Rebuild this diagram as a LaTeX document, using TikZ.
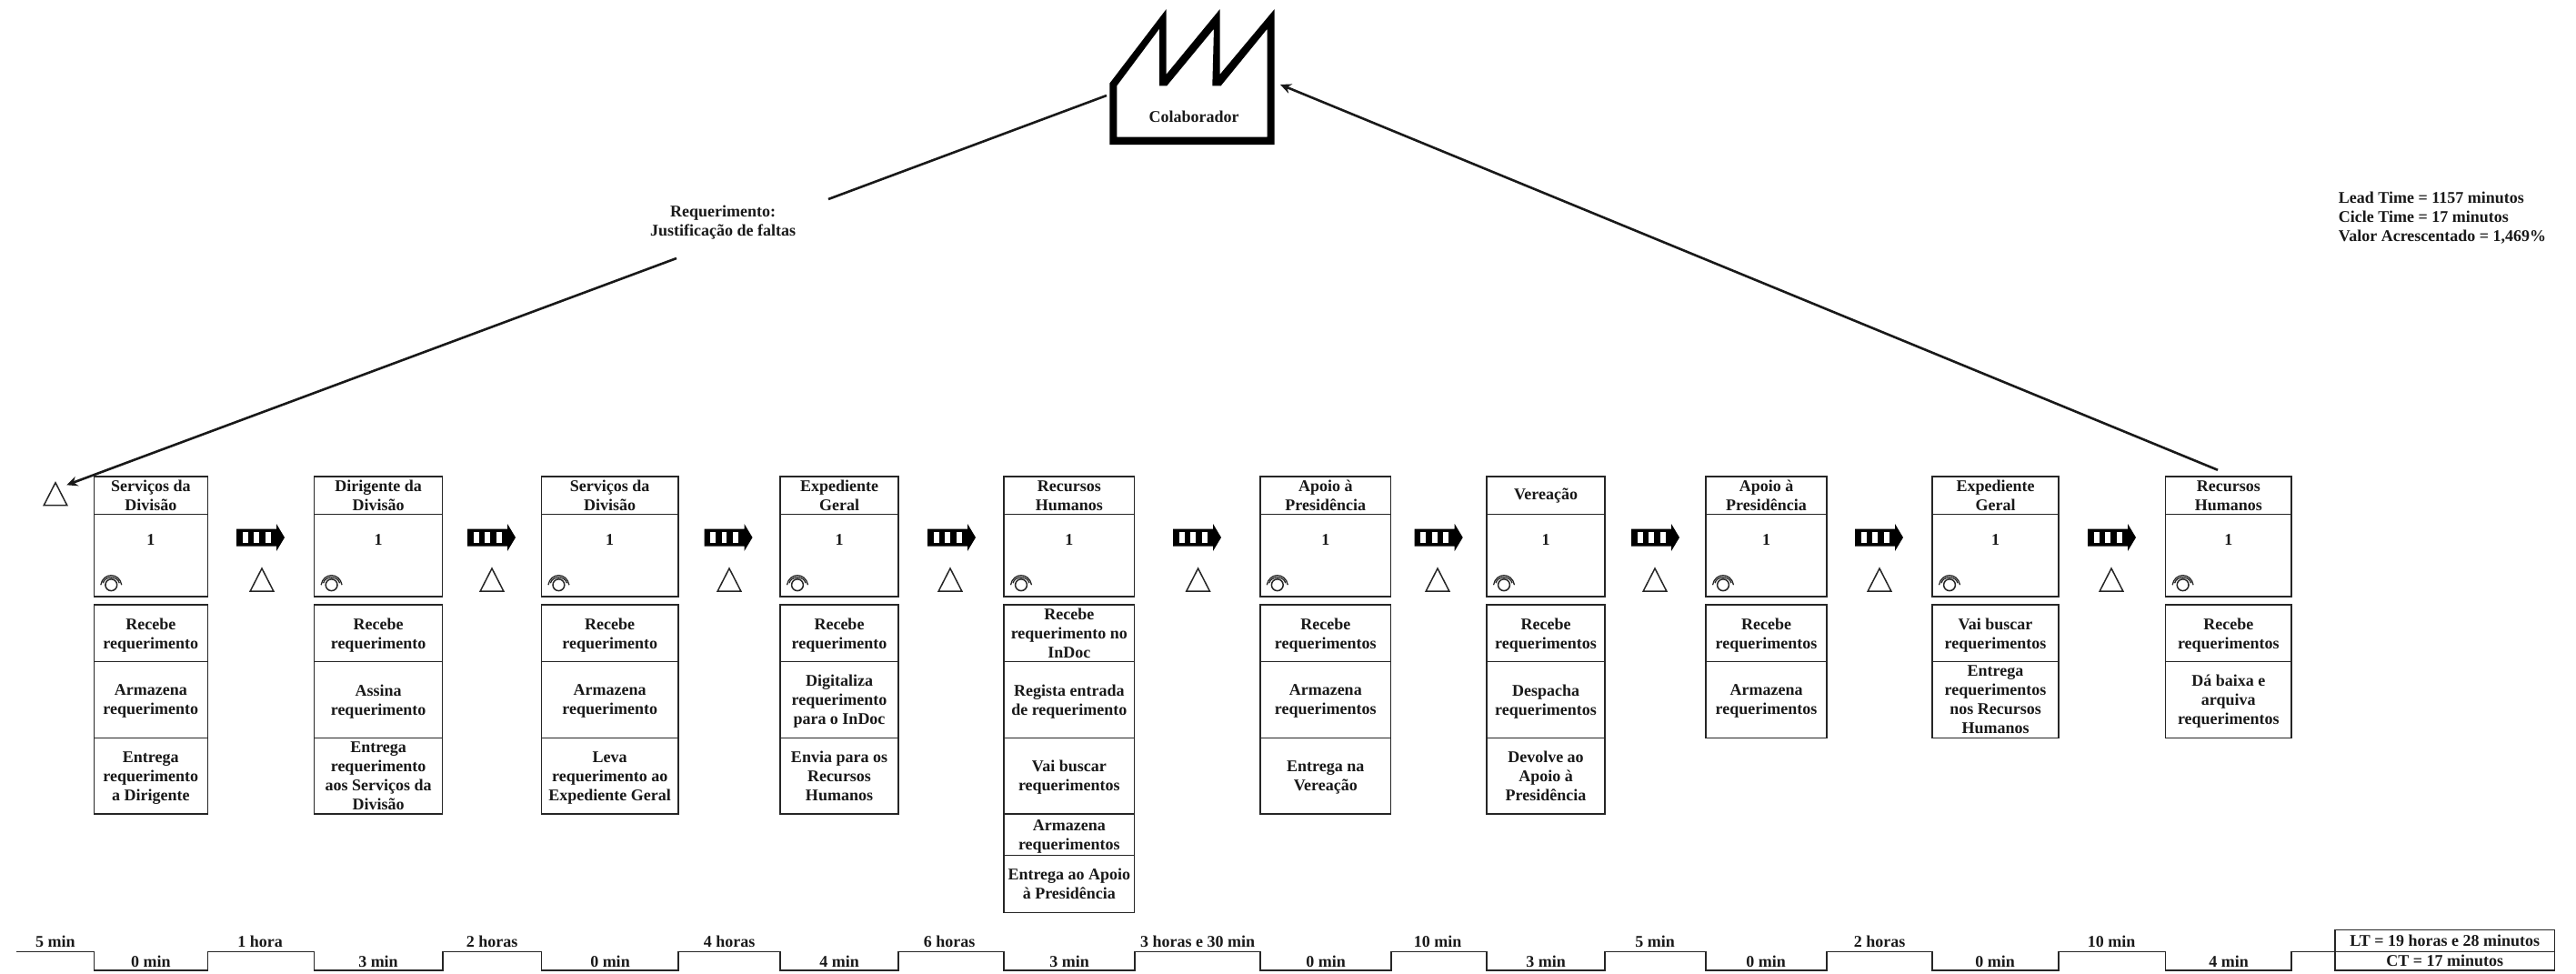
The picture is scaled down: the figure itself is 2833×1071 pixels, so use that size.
\documentclass[tikz,border=0pt]{standalone}
\usepackage{fontspec}
\setmainfont{Liberation Serif}
\usepackage{tikz}
\usetikzlibrary{positioning,arrows.meta,calc}
\usepackage{xcolor}

\tikzset{
    pushsym/.pic={
        \fill[black] (0,-9.5) -- (44,-9.5) -- (44,-15) -- (53,0) -- (44,15) -- (44,9.5) -- (0,9.5) -- cycle;
        \foreach \q in {6.7,19,31.7} {
            \fill[white] (\q,-6) rectangle ++(5.8,12);
        }
    },
    invsym/.pic={
        \draw[line width=1.5pt, black!85, line join=miter] (-12.8,12.5) -- (0,-12.5) -- (12.8,12.5) -- cycle;
    },
    opsym/.pic={
        \draw[line width=1.5pt, black!85] (0,0) circle (6.4);
        \draw[line width=1.3pt, black!85] (-11.5,0) .. controls (-9,-14) and (9,-14) .. (11.5,0);
        \draw[line width=1.3pt, black!85] (-9,-2) .. controls (-7,-10.5) and (7,-10.5) .. (9,-2);
    }
}

\begin{document}
\begin{tikzpicture}[
    x=1pt, y=-1pt,
    txt/.style={font=\fontsize{18}{21}\selectfont\bfseries, align=center, inner sep=0pt, text=black!90},
    cell/.style={txt, draw=black!85, line width=1.5pt},
    flow/.style={line width=2.6pt, black!90},
    timeline/.style={line width=1.6pt, black!85, line join=miter}
]
\useasboundingbox (0,0) rectangle (2833,1071);

% factory
\fill[black, even odd rule]
    (1220.3,159) -- (1220.3,91.7) -- (1282.7,10) -- (1282.7,81.7) -- (1341.7,10) -- (1341.7,81.7) -- (1401.7,10) -- (1401.7,159) -- cycle
    (1228.3,150.7) -- (1228.3,94.3) -- (1275,31.7) -- (1275,94.3) -- (1283.3,94.3) -- (1335,31.7) -- (1333.3,94.3) -- (1342.7,94.3) -- (1393.7,31.7) -- (1393.7,150.7) -- cycle;
\node[txt] (colab) at (1313,128) {Colaborador};

% processes
\foreach \c/\l/\r/\h/\rows in {
    1/103.3/228.3/{Serviços da\\Divisão}/{665/727.6/{Recebe\\requerimento},727.6/811.4/{Armazena\\requerimento},811.4/894.8/{Entrega\\requerimento\\a Dirigente}},
    2/345.6/486.7/{Dirigente da\\Divisão}/{665/727.6/{Recebe\\requerimento},727.6/811.4/{Assina\\requerimento},811.4/894.8/{Entrega\\requerimento\\aos Serviços da\\Divisão}},
    3/595.4/746/{Serviços da\\Divisão}/{665/727.6/{Recebe\\requerimento},727.6/811.4/{Armazena\\requerimento},811.4/894.8/{Leva\\requerimento ao\\Expediente Geral}},
    4/858/988/{Expediente\\Geral}/{665/727.6/{Recebe\\requerimento},727.6/811.4/{Digitaliza\\requerimento\\para o InDoc},811.4/894.8/{Envia para os\\Recursos\\Humanos}},
    5/1104/1247.7/{Recursos\\Humanos}/{665/727.6/{Recebe\\requerimento no\\InDoc},727.6/811.4/{Regista entrada\\de requerimento},811.4/894.8/{Vai buscar\\requerimentos},894.8/940.7/{Armazena\\requerimentos},940.7/1003.3/{Entrega ao Apoio\\à Presidência}},
    6/1385.8/1529.7/{Apoio à\\Presidência}/{665/727.6/{Recebe\\requerimentos},727.6/811.4/{Armazena\\requerimentos},811.4/894.8/{Entrega na\\Vereação}},
    7/1635/1765/{Vereação}/{665/727.6/{Recebe\\requerimentos},727.6/811.4/{Despacha\\requerimentos},811.4/894.8/{Devolve ao\\Apoio à\\Presidência}},
    8/1876/2009/{Apoio à\\Presidência}/{665/727.6/{Recebe\\requerimentos},727.6/811.4/{Armazena\\requerimentos}},
    9/2125/2264/{Expediente\\Geral}/{665/727.6/{Vai buscar\\requerimentos},727.6/811.4/{Entrega\\requerimentos\\nos Recursos\\Humanos}},
    10/2381.6/2520/{Recursos\\Humanos}/{665/727.6/{Recebe\\requerimentos},727.6/811.4/{Dá baixa e\\arquiva\\requerimentos}}%
} {
    \node[cell, minimum width={(\r-\l)*1pt}, minimum height=41.7pt] (hdr\c) at ({(\l+\r)/2},544.85) {\h};
    \node[cell, minimum width={(\r-\l)*1pt}, minimum height=90.1pt] (body\c) at ({(\l+\r)/2},610.75) {};
    \node[txt] (cnt\c) at ({(\l+\r)/2},593.6) {1};
    \pic at ({\l+19},643.2) {opsym};
    \foreach \t/\b/\s [count=\k] in \rows {
        \node[cell, text depth=0pt, minimum width={(\r-\l)*1pt}, minimum height={(\b-\t)*1pt}] (row\c-\k) at ({(\l+\r)/2},{(\t+\b)/2}) {\s};
    }
}

% push arrows and inventory
\foreach \a in {260,514,774.5,1020,1290,1555.7,1794,2040,2296} {
    \pic at (\a,591) {pushsym};
}
\foreach \a in {288,541,802,1045,1317.6,1581,1820,2067,2322} {
    \pic at (\a,637.5) {invsym};
}
\pic at (61,543.2) {invsym};

% information flow
\coordinate (fromcolab) at (1217,105);
\coordinate (reqr) at (911,219);
\coordinate (reql) at (744,284);
\coordinate (tri0) at (73.3,533.3);
\coordinate (fromrh) at (2439,516.8);
\coordinate (tocolab) at (1408,93);
\draw[flow] (fromcolab) -- (reqr);
\draw[flow, -{Stealth[length=12pt,width=11pt]}] (reql) -- (tri0);
\draw[flow, -{Stealth[length=12pt,width=11pt]}] (fromrh) -- (tocolab);
\node[txt] (reqlabel) at (795,244.5) {Requerimento:\\Justificação de faltas};
\node[txt, align=left, anchor=west] (metrics) at (2571.7,239.5) {Lead Time = 1157 minutos\\Cicle Time = 17 minutos\\Valor Acrescentado = 1,469\%};

% timeline
\draw[timeline] (18,1046.4) -- (103.3,1046.4) -- (103.3,1067) -- (228.3,1067) -- (228.3,1046.4)
    -- (345.6,1046.4) -- (345.6,1067) -- (486.7,1067) -- (486.7,1046.4)
    -- (595.4,1046.4) -- (595.4,1067) -- (746,1067) -- (746,1046.4)
    -- (858,1046.4) -- (858,1067) -- (988,1067) -- (988,1046.4)
    -- (1104,1046.4) -- (1104,1067) -- (1247.7,1067) -- (1247.7,1046.4)
    -- (1385.8,1046.4) -- (1385.8,1067) -- (1529.7,1067) -- (1529.7,1046.4)
    -- (1635,1046.4) -- (1635,1067) -- (1765,1067) -- (1765,1046.4)
    -- (1876,1046.4) -- (1876,1067) -- (2009,1067) -- (2009,1046.4)
    -- (2125,1046.4) -- (2125,1067) -- (2264,1067) -- (2264,1046.4)
    -- (2381.6,1046.4) -- (2381.6,1067) -- (2520,1067) -- (2520,1046.4) -- (2568,1046.4);
\foreach \a/\s in {61/5 min,286/1 hora,541/2 horas,802/4 horas,1044/6 horas,1317/3 horas e 30 min,1581/10 min,1820/5 min,2067/2 horas,2322/10 min} {
    \node[txt] at (\a,1035.3) {\s};
}
\foreach \a/\s in {166/0 min,416/3 min,671/0 min,923/4 min,1176/3 min,1458/0 min,1700/3 min,1942/0 min,2194/0 min,2451/4 min} {
    \node[txt] at (\a,1057) {\s};
}
\node[cell, minimum width=241.5pt, minimum height=23.7pt] (ltbox) at (2688.7,1034.5) {LT = 19 horas e 28 minutos};
\node[cell, minimum width=241.5pt, minimum height=20.7pt] (ctbox) at (2688.7,1056.7) {CT = 17 minutos};
\end{tikzpicture}
\end{document}
